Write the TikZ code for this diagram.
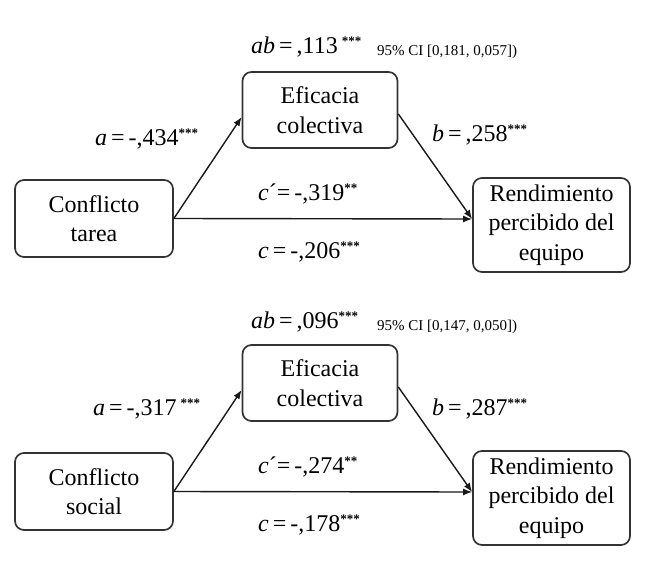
\documentclass[tikz,border=0pt]{standalone}
\usepackage{fontspec}
\setmainfont{Liberation Serif}
\usetikzlibrary{arrows.meta}
\tikzset{
  box/.style={draw=black!80, line width=1.7pt, rounded corners=9pt, align=center,
    inner sep=0pt, font=\fontsize{24}{29.5}\selectfont},
  conn/.style={draw=black!90, line width=1.4pt, -{Latex[length=9pt,width=7pt]}},
  lbl/.style={inner sep=0pt, anchor=base west, font=\fontsize{24}{27}\selectfont},
  ci/.style={inner sep=0pt, anchor=base west, font=\fontsize{15}{17}\selectfont},
}
\newcommand{\stars}[1]{\raisebox{8pt}{\fontsize{13}{13}\selectfont\bfseries #1}}
\begin{document}
\begin{tikzpicture}[x=1pt,y=-1pt]
\useasboundingbox (0,0) rectangle (650,575);
% ---------- top diagram ----------
\node[box, minimum width=158pt, minimum height=77pt] (CT1) at (94,218.5) {Conflicto\\tarea};
\node[box, minimum width=155pt, minimum height=76pt] (EC1) at (320,110) {Eficacia\\colectiva};
\node[box, minimum width=157pt, minimum height=94pt] (R1) at (551.5,225) {Rendimiento\\percibido del\\equipo};
\draw[conn] (CT1.east) -- ([yshift=-7pt]EC1.west);
\draw[conn] ([yshift=-4pt]EC1.east) -- ([yshift=6pt]R1.west);
\draw[conn] (CT1.east) -- ([yshift=6pt]R1.west);
\node[lbl] (ab1) at (251,54) {\textit{ab}\,=\,,113\,\stars{***}};
\node[ci] (ci1) at (377,56) {95\% CI [0,181, 0,057])};
\node[lbl] (a1) at (95,145) {\textit{a}\,=\,-,434\stars{***}};
\node[lbl] (b1) at (432,142) {\textit{b}\,=\,,258\stars{***}};
\node[lbl] (cp1) at (258,200) {\textit{c}´=\,-,319\stars{**}};
\node[lbl] (c1) at (258,258) {\textit{c}\,=\,-,206\stars{***}};
% ---------- bottom diagram ----------
\node[box, minimum width=158pt, minimum height=77pt] (CT2) at (94,491.5) {Conflicto\\social};
\node[box, minimum width=155pt, minimum height=76pt] (EC2) at (320,383) {Eficacia\\colectiva};
\node[box, minimum width=157pt, minimum height=94pt] (R2) at (551.5,498) {Rendimiento\\percibido del\\equipo};
\draw[conn] (CT2.east) -- ([yshift=-7pt]EC2.west);
\draw[conn] ([yshift=-4pt]EC2.east) -- ([yshift=6pt]R2.west);
\draw[conn] (CT2.east) -- ([yshift=6pt]R2.west);
\node[lbl] (ab2) at (251,328) {\textit{ab}\,=\,,096\stars{***}};
\node[ci] (ci2) at (377,330) {95\% CI [0,147, 0,050])};
\node[lbl] (a2) at (93,415) {\textit{a}\,=\,-,317\,\stars{***}};
\node[lbl] (b2) at (432,415) {\textit{b}\,=\,,287\stars{***}};
\node[lbl] (cp2) at (258,473) {\textit{c}´=\,-,274\stars{**}};
\node[lbl] (c2) at (258,531) {\textit{c}\,=\,-,178\stars{***}};
\end{tikzpicture}
\end{document}
